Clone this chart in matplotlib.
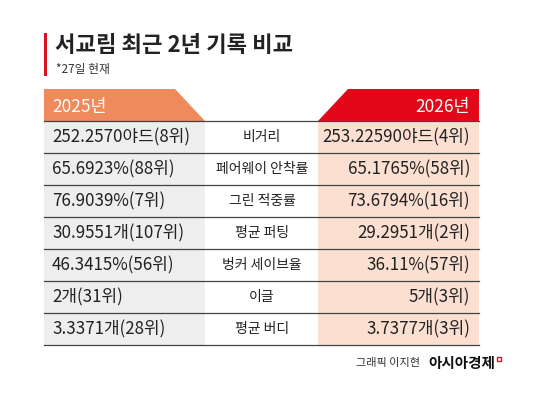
import matplotlib
matplotlib.use("Agg")
import matplotlib.pyplot as plt
from matplotlib.patches import Polygon, Rectangle

plt.rcParams['font.family'] = ['Noto Sans CJK KR', 'DejaVu Sans']

title = "서교림 최근 2년 기록 비교"
subtitle = "*27일 현재"
years = ["2025년", "2026년"]
categories = ["비거리", "페어웨이 안착률", "그린 적중률", "평균 퍼팅", "벙커 세이브율", "이글", "평균 버디"]
vals_2025 = ["252.2570야드(8위)", "65.6923%(88위)", "76.9039%(7위)", "30.9551개(107위)",
             "46.3415%(56위)", "2개(31위)", "3.3371개(28위)"]
vals_2026 = ["253.22590야드(4위)", "65.1765%(58위)", "73.6794%(16위)", "29.2951개(2위)",
             "36.11%(57위)", "5개(3위)", "3.7377개(3위)"]

fig = plt.figure(figsize=(5.5, 4.05), dpi=100)
ax = fig.add_axes([0, 0, 1, 1])
ax.set_xlim(0, 550); ax.set_ylim(405, 0); ax.axis('off')

ax.add_patch(Rectangle((44, 33), 3, 43, color='#d7141f', lw=0))
ax.text(55, 45, title, fontsize=16, fontweight='heavy', va='center', ha='left', color='#222')
ax.text(56, 69, subtitle, fontsize=8.5, va='center', ha='left', color='#333')

top, hb = 89, 121
ax.add_patch(Polygon([(44, top), (175, top), (205, hb), (44, hb)], color='#ef8a5c', lw=0))
ax.add_patch(Polygon([(348, top), (479, top), (479, hb), (318, hb)], color='#e3071a', lw=0))
ax.text(52, 107, years[0], fontsize=12.5, fontweight='medium', color='white', va='center', ha='left')
ax.text(470, 107, years[1], fontsize=12.5, fontweight='medium', color='white', va='center', ha='right')

rh = 32
for i, (c, a, b) in enumerate(zip(categories, vals_2025, vals_2026)):
    y0 = hb + i * rh
    ax.add_patch(Rectangle((44, y0), 161, rh, color='#eeeeee', lw=0))
    ax.add_patch(Rectangle((318, y0), 161, rh, color='#fbe0d2', lw=0))
    ax.plot([44, 479], [y0, y0], color='#444', lw=0.9)
    yc = y0 + rh / 2
    ax.text(52, yc, a, fontsize=12.2, va='center', ha='left', color='#222')
    ax.text(262, yc, c, fontsize=10, va='center', ha='center', color='#222')
    ax.text(470, yc, b, fontsize=12.2, va='center', ha='right', color='#222')
ax.plot([44, 479], [hb + 7 * rh, hb + 7 * rh], color='#444', lw=0.9)

ax.text(420, 363, "그래픽 이지현", fontsize=8, va='center', ha='right', color='#333')
ax.text(495, 363, "아시아경제", fontsize=10.5, fontweight='bold', va='center', ha='right', color='#111')
ax.add_patch(Rectangle((497, 357), 4, 4, fill=False, ec='#d7141f', lw=1))

fig.savefig("out.png", dpi=100)
